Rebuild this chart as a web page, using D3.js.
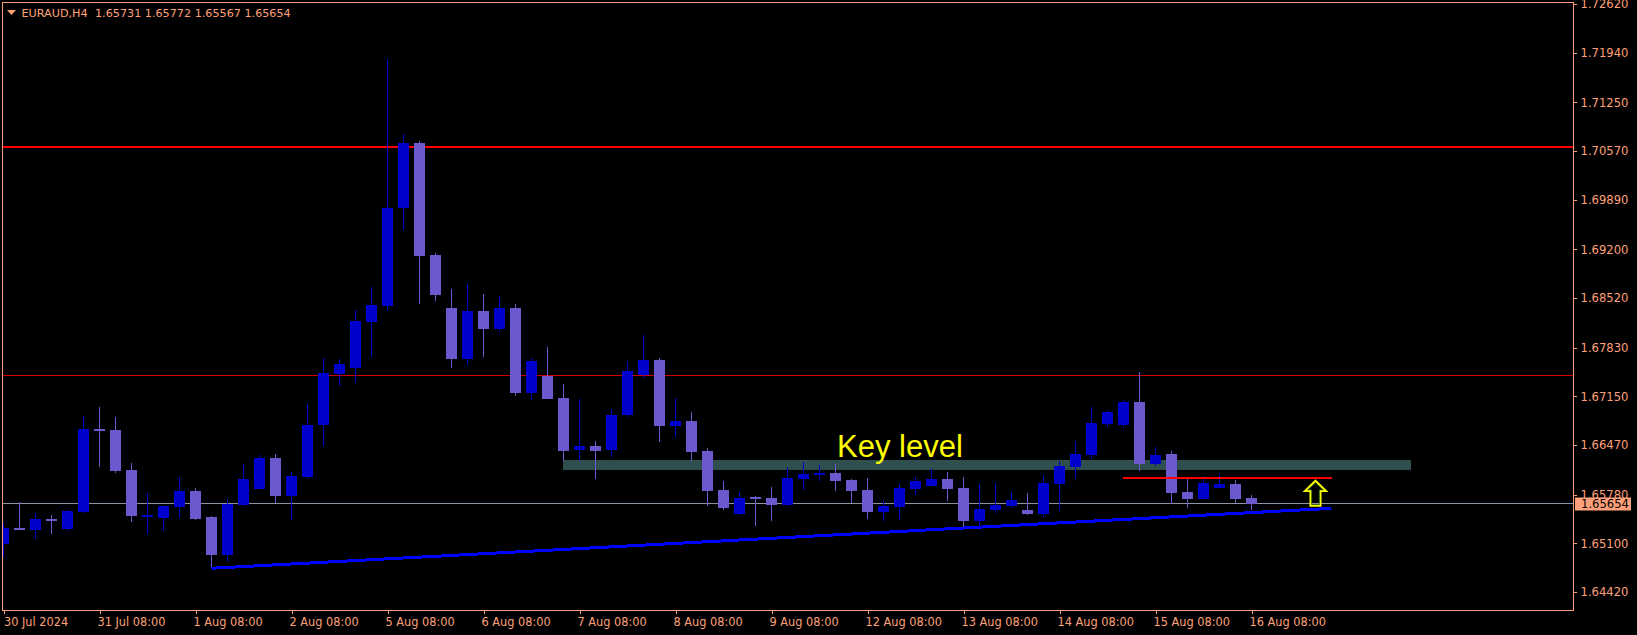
<!DOCTYPE html>
<html><head><meta charset="utf-8">
<script src="https://cdn.jsdelivr.net/npm/d3@7"></script>
<style>html,body{margin:0;padding:0;background:#000;overflow:hidden}</style>
</head><body>
<svg id="c" width="1637" height="635"></svg>
<script>
// ---------- data ----------
const symbolTitle = "EURAUD,H4";
const headerValues = ["1.65731", "1.65772", "1.65567", "1.65654"];

const open = [1.65097,1.65316,1.65292,1.65441,1.65302,1.65543,1.66696,1.66682,1.66125,1.65487,
1.65459,1.65609,1.65832,1.65473,1.64943,1.65636,1.65860,1.66292,1.65762,1.66027,
1.66752,1.67467,1.67551,1.68193,1.68416,1.69778,1.70680,1.69123,1.68384,1.67672,
1.68342,1.68091,1.68384,1.67202,1.67442,1.67129,1.66408,1.66459,1.66394,1.66891,
1.67449,1.67658,1.66738,1.66808,1.66390,1.65846,1.65515,1.65748,1.65734,1.65636,
1.65999,1.66055,1.66083,1.65985,1.65846,1.65539,1.65609,1.65860,1.65901,1.65999,
1.65874,1.65413,1.65567,1.65622,1.65567,1.65511,1.65929,1.66166,1.66334,1.66766,
1.66752,1.67073,1.66208,1.66348,1.65818,1.65720,1.65874,1.65929,1.65731];
const high = [1.65381,1.65678,1.65521,1.65497,1.65567,1.66882,1.67003,1.66864,1.66222,1.65800,
1.65622,1.66027,1.65878,1.65487,1.65720,1.66212,1.66334,1.66348,1.66097,1.67049,
1.67691,1.67668,1.68356,1.68676,1.71856,1.70810,1.70708,1.69151,1.68649,1.68718,
1.68579,1.68551,1.68439,1.67686,1.67840,1.67324,1.67115,1.66529,1.66975,1.67645,
1.68007,1.67686,1.67129,1.66933,1.66431,1.65971,1.65818,1.65762,1.65887,1.66166,
1.66236,1.66194,1.66208,1.65999,1.66013,1.65692,1.65929,1.66027,1.66138,1.66097,
1.66027,1.65929,1.65943,1.65818,1.65804,1.66055,1.66250,1.66529,1.67003,1.66961,
1.67101,1.67491,1.66445,1.66390,1.65999,1.66041,1.66069,1.65985,1.65772];
const low = [1.64916,1.65292,1.65162,1.65236,1.65278,1.65521,1.66171,1.66087,1.65404,1.65236,
1.65274,1.65459,1.65427,1.64776,1.64846,1.65622,1.65860,1.65660,1.65427,1.65999,
1.66463,1.67296,1.67342,1.67700,1.68342,1.69471,1.68444,1.68485,1.67551,1.67592,
1.67705,1.68053,1.67161,1.67105,1.67119,1.66250,1.66250,1.65999,1.66310,1.66864,
1.67408,1.66515,1.66585,1.66250,1.65622,1.65567,1.65497,1.65344,1.65413,1.65622,
1.65846,1.65971,1.65832,1.65664,1.65441,1.65413,1.65427,1.65776,1.65901,1.65692,
1.65330,1.65344,1.65525,1.65595,1.65497,1.65469,1.65553,1.65999,1.66278,1.66724,
1.66710,1.66111,1.66180,1.65650,1.65595,1.65720,1.65874,1.65664,1.65567];
const close = [1.65316,1.65292,1.65441,1.65431,1.65553,1.66696,1.66668,1.66115,1.65487,1.65493,
1.65622,1.65832,1.65445,1.64943,1.65655,1.65999,1.66292,1.65762,1.66041,1.66752,
1.67477,1.67603,1.68202,1.68425,1.69778,1.70680,1.69099,1.68569,1.67677,1.68342,
1.68095,1.68384,1.67202,1.67645,1.67119,1.66394,1.66459,1.66394,1.66887,1.67505,
1.67658,1.66738,1.66808,1.66376,1.65832,1.65595,1.65734,1.65720,1.65636,1.66013,
1.66069,1.66083,1.65971,1.65832,1.65539,1.65622,1.65874,1.65971,1.65999,1.65860,
1.65413,1.65581,1.65636,1.65706,1.65511,1.65943,1.66180,1.66348,1.66780,1.66933,
1.67073,1.66208,1.66334,1.65804,1.65720,1.65943,1.65929,1.65720,1.65654];

const timeLabels = ["30 Jul 2024","31 Jul 08:00","1 Aug 08:00","2 Aug 08:00","5 Aug 08:00","6 Aug 08:00",
"7 Aug 08:00","8 Aug 08:00","9 Aug 08:00","12 Aug 08:00","13 Aug 08:00","14 Aug 08:00","15 Aug 08:00","16 Aug 08:00"];
const timeLabelBars = [0,6,12,18,24,30,36,42,48,54,60,66,72,78];
const priceTicks = [1.72620,1.71940,1.71250,1.70570,1.69890,1.69200,1.68520,1.67830,1.67150,1.66470,1.65780,1.65100,1.64420];

const redLevels = [1.70632, 1.67445];
const redLevelWidths = [2, 1];
const redLevelColors = ["#FF0000", "#D00000"];
const bidPrice = 1.65654;
const keyZoneBars = [35, 88];
const keyZonePrices = [1.66264, 1.66125];
const trendBars = [13, 83];
const trendPrices = [1.64754, 1.65590];
const shortLevelBars = [70, 83];
const shortLevelPrice = 1.66017;
const arrowBar = 82, arrowPrice = 1.65975;
const keyLabel = "Key level";

// ---------- layout ----------
const FG = "#FFA07A", BULL = "#0000CD", BEAR = "#6A5ACD";
const L = 2.5, T = 2.5, R = 1573.5, B = 610.5;
const svg = d3.select("#c");
svg.append("rect").attr("width",1637).attr("height",635).attr("fill","#000");

const x = d3.scaleLinear().domain([0, 78]).range([3.5, 1251.5]);
const y = d3.scaleLinear().domain([1.64158, 1.72644]).range([611, 2.5]);

svg.append("clipPath").attr("id","plot").append("rect")
  .attr("x",L).attr("y",T).attr("width",R-L).attr("height",B-T);
const g = svg.append("g").attr("clip-path","url(#plot)");

// key level zone
g.append("rect")
  .attr("x", x(keyZoneBars[0]) - 0.5).attr("width", x(keyZoneBars[1]) - x(keyZoneBars[0]))
  .attr("y", y(keyZonePrices[0])).attr("height", y(keyZonePrices[1]) - y(keyZonePrices[0]))
  .attr("fill", "#2F4F4F");

// horizontal red levels
g.selectAll("line.red").data(redLevels).join("line").attr("class","red")
  .attr("x1", L).attr("x2", R)
  .attr("y1", (d, k) => Math.round(y(d)) + (redLevelWidths[k] === 1 ? 0.5 : 0))
  .attr("y2", (d, k) => Math.round(y(d)) + (redLevelWidths[k] === 1 ? 0.5 : 0))
  .attr("stroke", (d, k) => redLevelColors[k]).attr("stroke-width", (d, k) => redLevelWidths[k])
  .attr("shape-rendering","crispEdges");

// bid line
g.append("line").attr("x1", L).attr("x2", R)
  .attr("y1", Math.round(y(bidPrice)) - 0.5).attr("y2", Math.round(y(bidPrice)) - 0.5)
  .attr("stroke", "#8A96A4").attr("stroke-width", 1);

// candles
const idx = d3.range(open.length);
const cg = g.append("g").attr("shape-rendering","crispEdges");
cg.selectAll("line.wick").data(idx).join("line").attr("class","wick")
  .attr("x1", i => x(i)).attr("x2", i => x(i))
  .attr("y1", i => y(high[i])).attr("y2", i => y(low[i]))
  .attr("stroke", i => close[i] >= open[i] ? BULL : BEAR).attr("stroke-width", 1);
cg.selectAll("rect.body").data(idx).join("rect").attr("class","body")
  .attr("x", i => x(i) - 5.5).attr("width", 11)
  .attr("y", i => Math.round(y(Math.max(open[i], close[i]))))
  .attr("height", i => Math.max(1.5, Math.round(Math.abs(y(open[i]) - y(close[i])))))
  .attr("fill", i => close[i] >= open[i] ? BULL : BEAR);

// trend line
g.append("line")
  .attr("x1", x(trendBars[0])).attr("y1", y(trendPrices[0]))
  .attr("x2", x(trendBars[1])).attr("y2", y(trendPrices[1]))
  .attr("stroke", "#0000FF").attr("stroke-width", 3).attr("shape-rendering","crispEdges");

// short red level
g.append("line")
  .attr("x1", x(shortLevelBars[0]) - 0.5).attr("x2", x(shortLevelBars[1]) + 0.5)
  .attr("y1", y(shortLevelPrice)).attr("y2", y(shortLevelPrice))
  .attr("stroke", "#FF0000").attr("stroke-width", 2).attr("shape-rendering","crispEdges");

// arrow
const ax = x(arrowBar), ay = y(arrowPrice);
g.append("path")
  .attr("d", `M${ax},${ay} L${ax+10.5},${ay+10.3} L${ax+5},${ay+10.3} L${ax+5},${ay+25} L${ax-5},${ay+25} L${ax-5},${ay+10.3} L${ax-10.5},${ay+10.3} Z`)
  .attr("fill","none").attr("stroke","#FFFF00").attr("stroke-width",2).attr("stroke-linejoin","miter");
g.append("path")
  .attr("d", `M${ax},${ay+2.2} L${ax+7.8},${ay+9.2} L${ax+3.9},${ay+9.2} L${ax+3.9},${ay+23.9} L${ax-3.9},${ay+23.9} L${ax-3.9},${ay+9.2} L${ax-7.8},${ay+9.2} Z`)
  .attr("fill","none").attr("stroke","#3C7A10").attr("stroke-width",0.8);

// key level label
g.append("text").attr("x", 837).attr("y", 457)
  .attr("font-family", "'Liberation Sans', Arial, sans-serif").attr("font-size", 31)
  .attr("fill", "#FFFF00").text(keyLabel);

// frame
svg.append("path")
  .attr("d", `M${L},${T} H${R} V${B} H${L} Z`)
  .attr("fill","none").attr("stroke",FG).attr("stroke-width",1).attr("shape-rendering","crispEdges");

// price axis
const yAxis = d3.axisRight(y).tickValues(priceTicks).tickFormat(d3.format(".5f")).tickSize(3).tickPadding(4);
const ya = svg.append("g").attr("transform", `translate(${R},0)`).call(yAxis);
ya.select(".domain").remove();
ya.selectAll("line").attr("stroke", FG).attr("shape-rendering","crispEdges");
ya.selectAll("text").attr("fill", FG).attr("font-family","'DejaVu Sans', Tahoma, sans-serif").attr("font-size", 11.6);

// time axis
const xAxis = d3.axisBottom(x).tickValues(timeLabelBars).tickFormat((d, k) => timeLabels[k]).tickSize(3).tickPadding(4);
const xa = svg.append("g").attr("transform", `translate(0,${B})`).call(xAxis);
xa.select(".domain").remove();
xa.selectAll("line").attr("stroke", FG).attr("shape-rendering","crispEdges");
xa.selectAll("text").attr("fill", FG).attr("text-anchor","start").attr("dx", -2.5)
  .attr("font-family","'DejaVu Sans Condensed', 'Liberation Sans Narrow', 'DejaVu Sans', sans-serif")
  .attr("font-stretch","condensed").attr("font-size", 12.6);
xa.selectAll("text").filter((d, k) => k === 0).attr("dx", 0);

// bid price tag
const by = y(bidPrice);
svg.append("rect").attr("x", 1575).attr("y", Math.round(by) - 6.5).attr("width", 56).attr("height", 13).attr("fill", FG);
svg.append("text").attr("x", 1581).attr("y", by + 4).attr("fill","#000")
  .attr("font-family","'DejaVu Sans', Tahoma, sans-serif").attr("font-size",11.6).text(d3.format(".5f")(bidPrice));

// header
svg.append("path").attr("d","M7,10 L16,10 L11.5,15 Z").attr("fill",FG);
svg.append("text").attr("x", 21.5).attr("y", 17).attr("fill", FG)
  .attr("font-family","'DejaVu Sans', Tahoma, sans-serif").attr("font-size", 11.2)
  .text(symbolTitle);
svg.append("text").attr("x", 95).attr("y", 17).attr("fill", FG)
  .attr("font-family","'DejaVu Sans', Tahoma, sans-serif").attr("font-size", 11.2)
  .text(headerValues.join(" "));
</script>
</body></html>
